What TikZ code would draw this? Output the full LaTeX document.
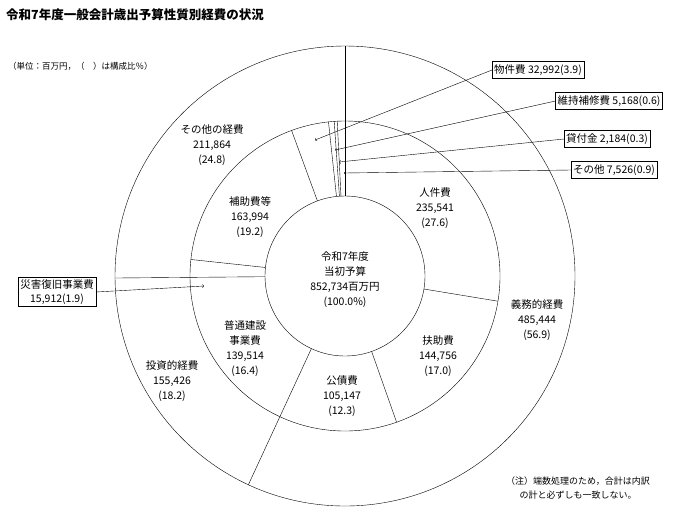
\documentclass[tikz,border=0pt]{standalone}
\usepackage{fontspec}
\setmainfont{Noto Sans CJK JP}
\usetikzlibrary{calc}
\begin{document}
\begin{tikzpicture}[x=1pt,y=-1pt,
  lab/.style={font=\fontsize{10.5}{15}\selectfont,align=center,inner sep=1pt},
  box/.style={draw,font=\fontsize{10.5}{14}\selectfont,align=center,inner sep=2pt,minimum height=17pt},
  arr/.style={->,thin}]
\useasboundingbox (0,0) rectangle (700,523);
\coordinate (c) at (345,276);
\draw (c) circle (80pt);
\draw (c) circle (155pt);
\draw (c) circle (230pt);
\foreach \a in {-9.36,-70.56,-114.84,173.88,110.16,96.12,94.0,92.88}
  \draw ($(c)+(\a:80pt)$) -- ($(c)+(\a:155pt)$);
\draw ($(c)+(90:80pt)$) -- ($(c)+(90:230pt)$);
\draw ($(c)+(180.5:80pt)$) -- ($(c)+(180.5:230pt)$);
\draw ($(c)+(-114.84:155pt)$) -- ($(c)+(-114.84:230pt)$);
\node[anchor=west,font=\bfseries\fontsize{12.5}{14}\selectfont,inner sep=0] (title) at (6,15) {令和7年度一般会計歳出予算性質別経費の状況};
\node[anchor=west,font=\fontsize{8.5}{10}\selectfont,inner sep=0] (unit) at (8,66) {（単位：百万円，（　）は構成比％）};
\node[lab] (c0) at (345,280) {令和7年度\\当初予算\\852,734百万円\\(100.0\%)};
\node[lab] (l1) at (435,208) {人件費\\235,541\\(27.6)};
\node[lab] (l2) at (438,356) {扶助費\\144,756\\(17.0)};
\node[lab] (l3) at (342,396) {公債費\\105,147\\(12.3)};
\node[lab] (l4) at (245,349) {普通建設\\事業費\\139,514\\(16.4)};
\node[lab] (l5) at (250,217) {補助費等\\163,994\\(19.2)};
\node[lab] (o1) at (537,320) {義務的経費\\485,444\\(56.9)};
\node[lab] (o2) at (172,381) {投資的経費\\155,426\\(18.2)};
\node[lab] (o3) at (212,145) {その他の経費\\211,864\\(24.8)};
\node[box] (b1) at (538,70) {物件費 32,992(3.9)};
\node[box] (b2) at (609,101) {維持補修費 5,168(0.6)};
\node[box] (b3) at (607,139) {貸付金 2,184(0.3)};
\node[box] (b4) at (614,170) {その他 7,526(0.9)};
\node[box] (b5) at (57,292) {災害復旧事業費\\15,912(1.9)};
\coordinate (t1) at (315,140);
\coordinate (t2) at (335,150);
\coordinate (t3) at (339,162);
\coordinate (t4) at (344,173);
\coordinate (t5) at (204,286);
\draw[arr] (b1.west) -- (t1);
\draw[arr] (b2.west) -- (t2);
\draw[arr] (b3.west) -- (t3);
\draw[arr] (b4.west) -- (t4);
\draw[arr] (b5.east) -- (t5);
\node[lab,font=\fontsize{9}{14}\selectfont] (note) at (578,488) {（注）端数処理のため，合計は内訳\\の計と必ずしも一致しない。};
\end{tikzpicture}
\end{document}
